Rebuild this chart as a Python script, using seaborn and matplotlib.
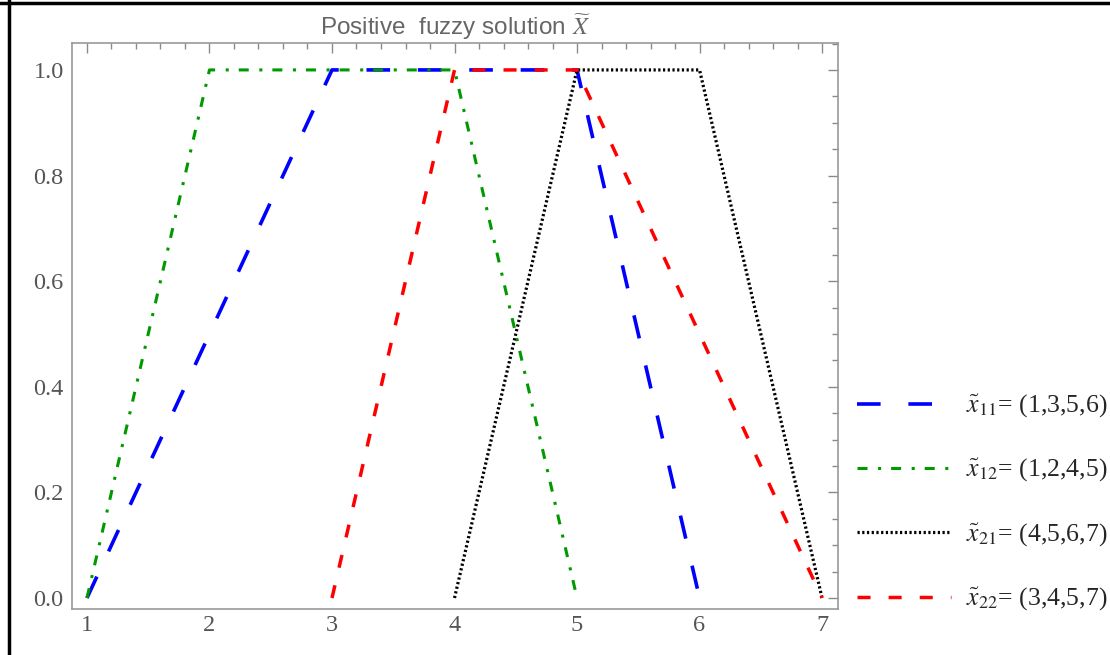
import numpy as np
import pandas as pd
import matplotlib
matplotlib.use("Agg")
import matplotlib.pyplot as plt
from matplotlib.lines import Line2D
from matplotlib.ticker import MultipleLocator, FormatStrFormatter, FixedLocator
import seaborn as sns

# ---- data ----
y_membership = [0, 1, 1, 0]
x11 = [1, 3, 5, 6]
x12 = [1, 2, 4, 5]
x21 = [4, 5, 6, 7]
x22 = [3, 4, 5, 7]
labels = [r"$\tilde{x}_{11}$= (1,3,5,6)", r"$\tilde{x}_{12}$= (1,2,4,5)",
          r"$\tilde{x}_{21}$= (4,5,6,7)", r"$\tilde{x}_{22}$= (3,4,5,7)"]
x_ticks = [1, 2, 3, 4, 5, 6, 7]
y_ticks = [0.0, 0.2, 0.4, 0.6, 0.8, 1.0]
title = r"Positive  fuzzy solution $\widetilde{X}$"

sns.set_theme(style="white")
plt.rcParams["font.family"] = ["Liberation Serif", "DejaVu Serif"]
plt.rcParams["mathtext.fontset"] = "stix"
plt.rcParams["lines.scale_dashes"] = False

fig = plt.figure(figsize=(11.1, 6.55), dpi=100)
ax = fig.add_axes([72 / 1110, 46 / 655, 766 / 1110, 566 / 655])

styles = [
    dict(color="#0000ff", lw=2.6, linestyle=(0, (17, 20))),
    dict(color="#009a00", lw=2.2, linestyle=(0, (7.2, 7.6, 2.2, 7.2))),
    dict(color="#000000", lw=2.3, linestyle=(0, (1.6, 1.8))),
    dict(color="#ff0000", lw=2.5, linestyle=(0, (9.4, 13))),
]
for xs, lab, st in zip([x11, x12, x21, x22], labels, styles):
    df = pd.DataFrame({"x": xs, "y": y_membership})
    sns.lineplot(data=df, x="x", y="y", ax=ax, estimator=None, sort=False,
                 label=lab, dash_capstyle="butt", **st)

ax.set_xlim(0.878, 7.13)
ax.set_ylim(-0.0208, 1.051)
ax.xaxis.set_major_locator(FixedLocator(x_ticks))
ax.yaxis.set_major_locator(FixedLocator(y_ticks))
ax.xaxis.set_minor_locator(MultipleLocator(0.2))
ax.yaxis.set_minor_locator(MultipleLocator(0.05))
ax.yaxis.set_major_formatter(FormatStrFormatter("%.1f"))
ax.set_xlabel("")
ax.set_ylabel("")

ax.tick_params(which="both", direction="in", top=True, right=True,
               color="#8a8a8a", width=1.0, labelcolor="#555555")
ax.tick_params(which="major", length=7, labelsize=17.5)
ax.tick_params(which="minor", length=4.5)
ax.tick_params(axis="y", which="major", pad=6)
ax.tick_params(axis="x", which="major", pad=4)
for sp in ax.spines.values():
    sp.set_visible(True)
    sp.set_color("#999999")
    sp.set_linewidth(1.2)

ax.set_title(title, fontfamily="Liberation Sans", color="#666666",
             fontsize=17.5, pad=6)

ax.legend(loc="upper left", bbox_to_anchor=(857 / 1110, (655 - 393) / 655),
          bbox_transform=fig.transFigure, frameon=False, fontsize=18.5,
          handlelength=3.65, handletextpad=0.6, labelspacing=1.45,
          borderpad=0, borderaxespad=0)

# page border lines
fig.add_artist(Line2D([0.0085, 0.0085], [0, 1], transform=fig.transFigure,
                      color="black", lw=2.5))
fig.add_artist(Line2D([0, 1], [0.9955, 0.9955], transform=fig.transFigure,
                      color="black", lw=2.5))

fig.savefig("out.png", dpi=100)
